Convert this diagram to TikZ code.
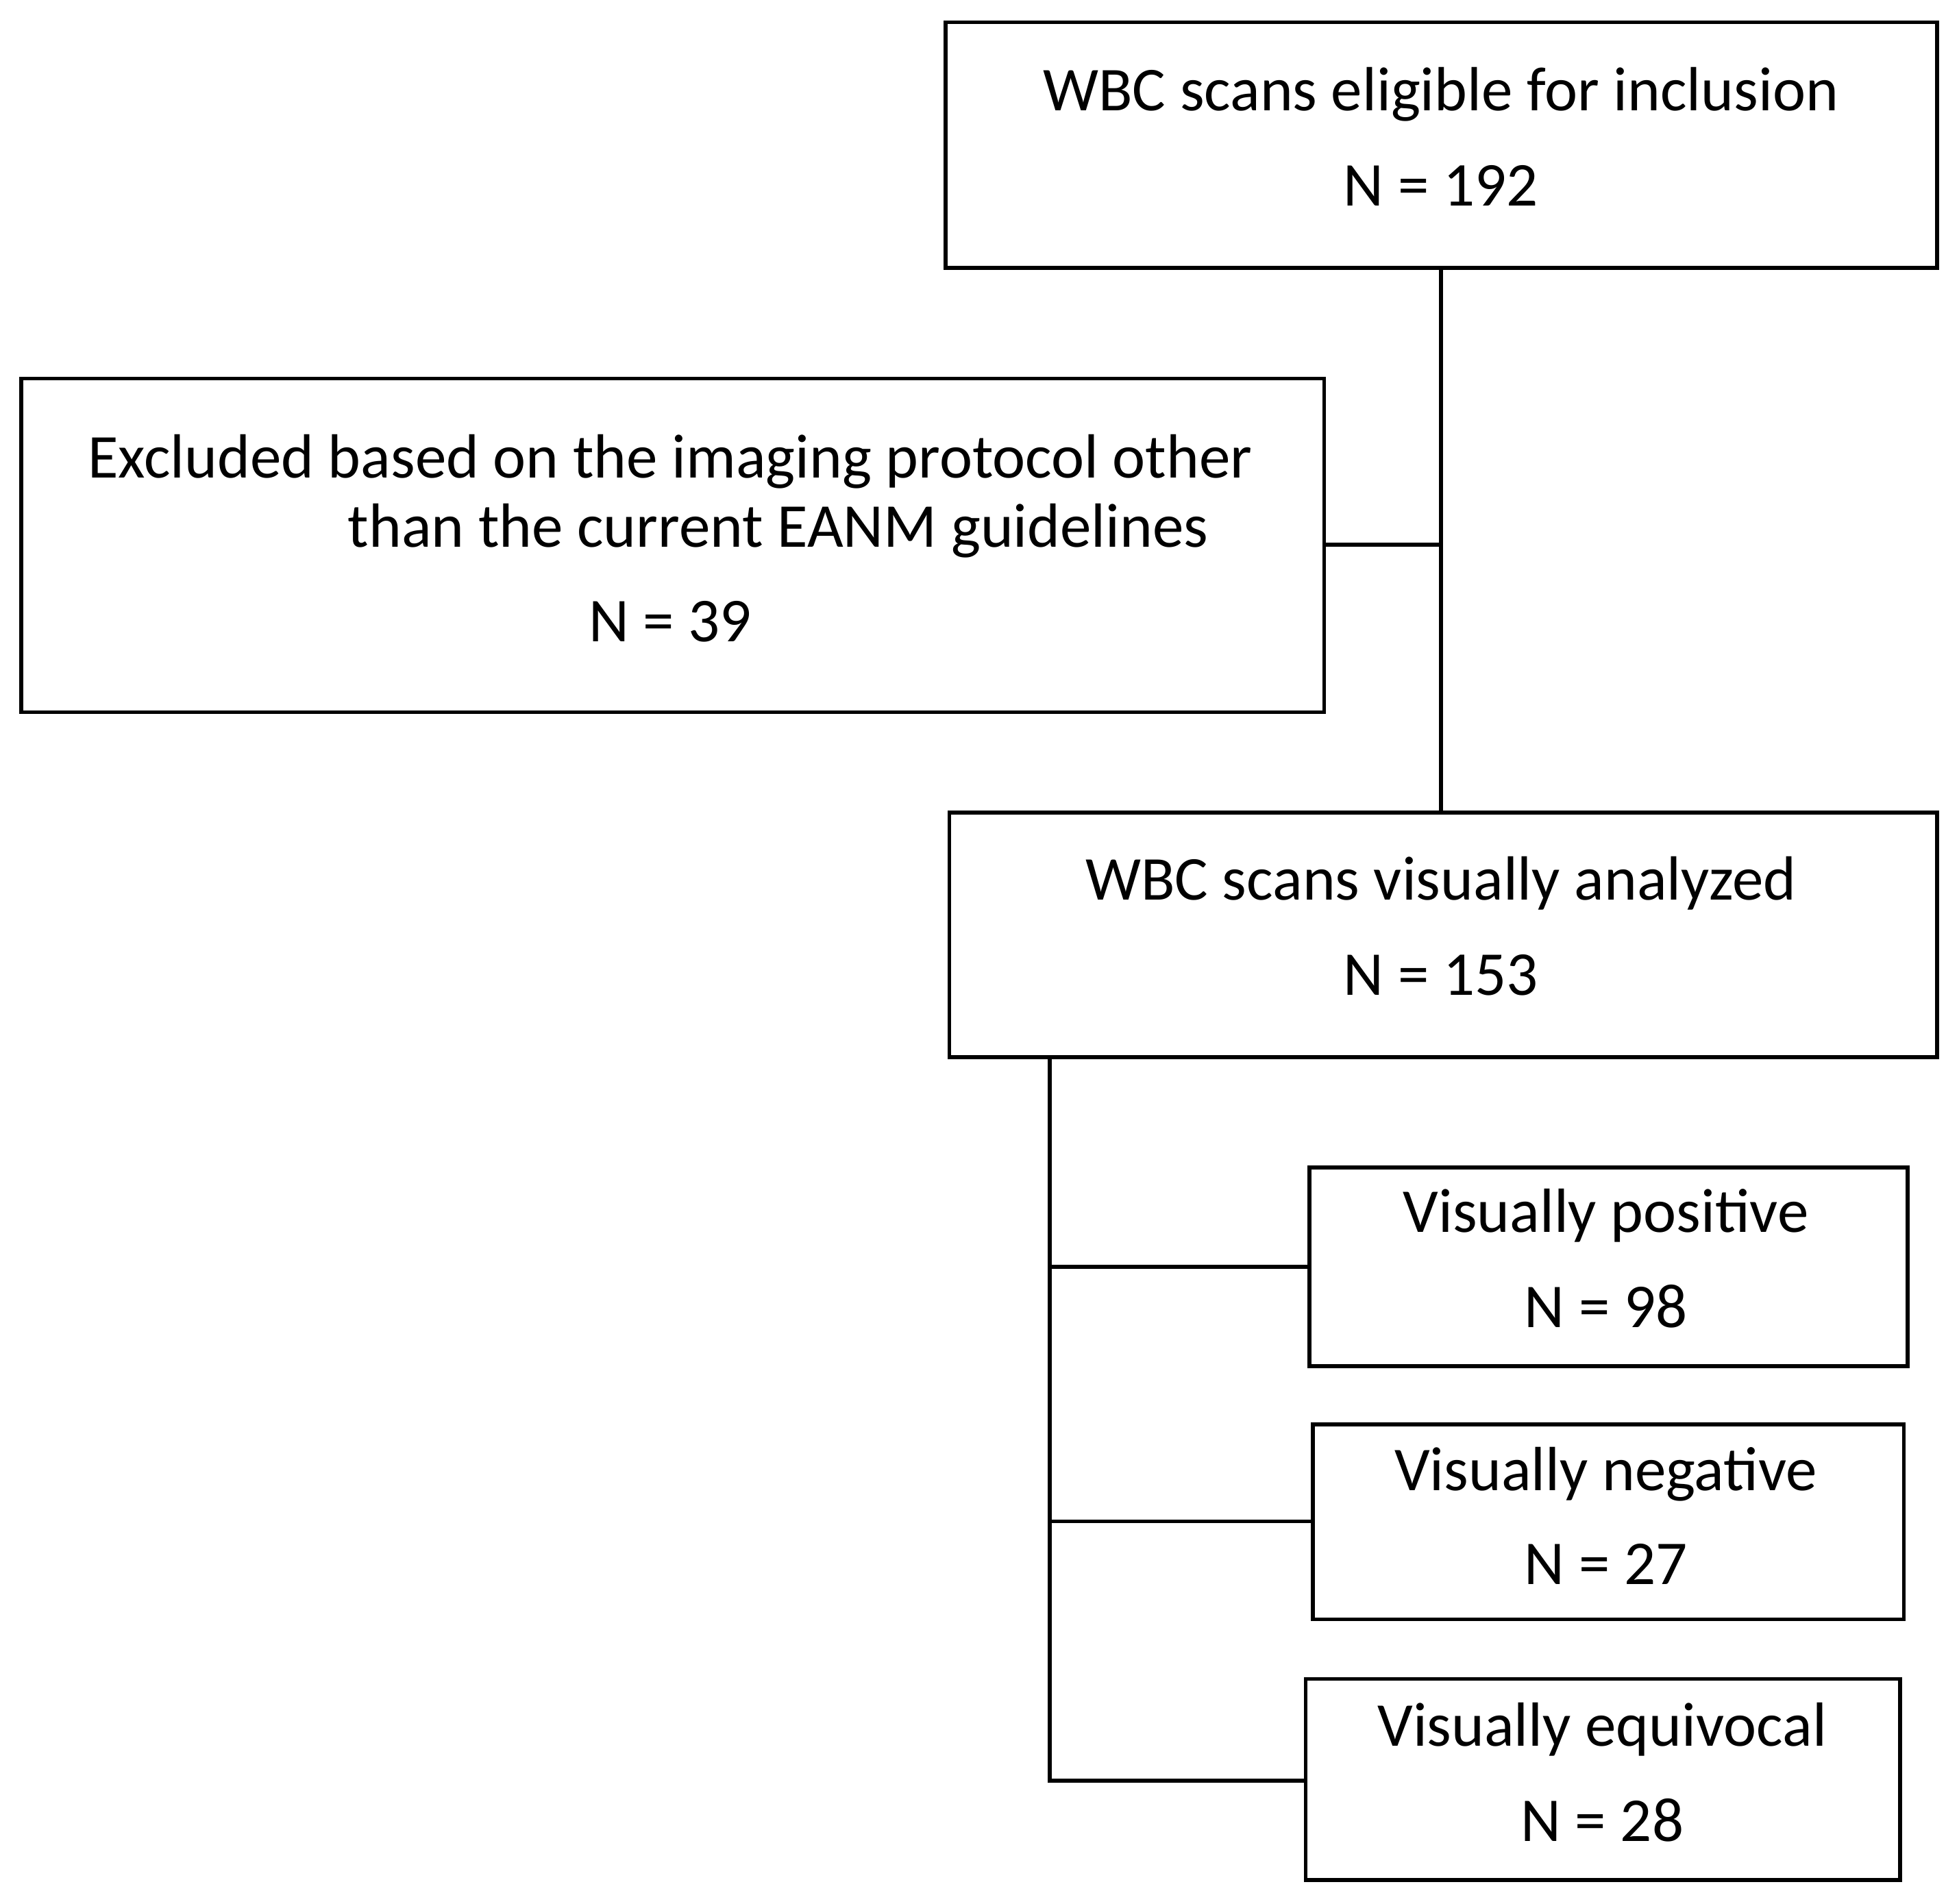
\documentclass[tikz,border=0pt]{standalone}
\usepackage{fontspec}
\setmainfont{Carlito}
\begin{document}
\begin{tikzpicture}[x=0.01cm,y=-0.01cm,line width=0.9pt,
  box/.style={draw=black,line width=0.9pt},
  txt/.style={font=\fontsize{14.3}{16}\selectfont,inner sep=0pt,anchor=base}]
\useasboundingbox (0,0) rectangle (1568,1534);
\draw[box] (762,18) rectangle (1561,216);
\node[txt] (t1) at (1161,89) {WBC scans eligible for inclusion};
\node[txt] (t2) at (1161,166) {N = 192};
\draw[box] (17,305) rectangle (1067,574);
\node[txt] (e1) at (540,385) {Excluded based on the imaging protocol other};
\node[txt] (e2) at (627,441) {than the current EANM guidelines};
\node[txt] (e3) at (540,517) {N = 39};
\draw[box] (765,655) rectangle (1561,852);
\node[txt] (a1) at (1161,725) {WBC scans visually analyzed};
\node[txt] (a2) at (1161,802) {N = 153};
\draw[box] (1055,941) rectangle (1537,1101);
\node[txt] (p1) at (1294,993) {Visually positive};
\node[txt] (p2) at (1294,1070) {N = 98};
\draw[box] (1058,1148) rectangle (1534,1305);
\node[txt] (n1) at (1294,1201) {Visually negative};
\node[txt] (n2) at (1294,1277) {N = 27};
\draw[box] (1052,1353) rectangle (1531,1515);
\node[txt] (q1) at (1291,1407) {Visually equivocal};
\node[txt] (q2) at (1291,1484) {N = 28};
\draw (1161,216) -- (1161,655);
\draw (1067,439) -- (1161,439);
\draw (846,852) -- (846,1435) -- (1052,1435);
\draw (846,1021) -- (1055,1021);
\draw (846,1226) -- (1058,1226);
\end{tikzpicture}
\end{document}
